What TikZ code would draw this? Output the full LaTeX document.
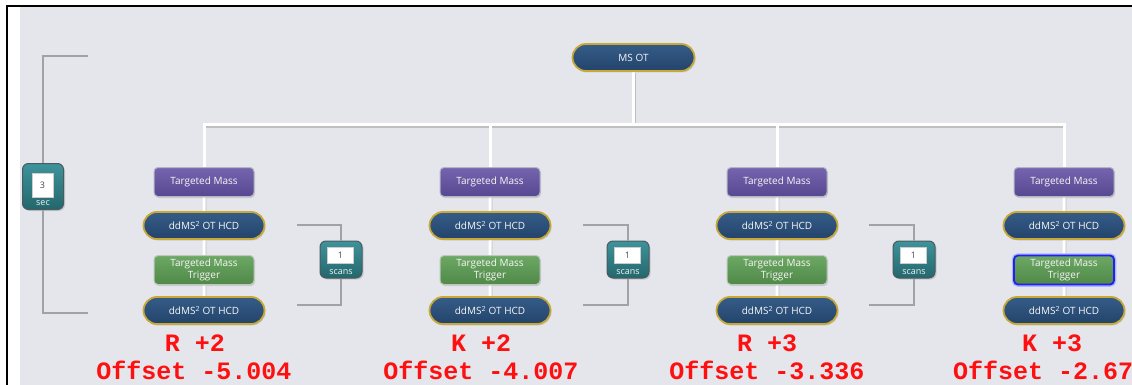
\documentclass[tikz,border=0pt]{standalone}
\usepackage{fontspec}
\setmainfont{Open Sans}
\newfontfamily\offsetfont{Liberation Mono}
\usetikzlibrary{positioning,shapes.misc,shadows,backgrounds}
\pgfdeclarelayer{paper}
\pgfsetlayers{paper,background,main}
\definecolor{paperbg}{HTML}{E4E6EC}
\definecolor{tmtop}{HTML}{7565AE}
\definecolor{tmbot}{HTML}{574790}
\definecolor{tmline}{HTML}{B4B4C4}
\definecolor{ddtop}{HTML}{355C88}
\definecolor{ddbot}{HTML}{23446B}
\definecolor{goldline}{HTML}{C8A836}
\definecolor{trtop}{HTML}{6CA864}
\definecolor{trbot}{HTML}{4F8848}
\definecolor{trline}{HTML}{BCC8BC}
\definecolor{cttop}{HTML}{3F939B}
\definecolor{ctbot}{HTML}{23676D}
\definecolor{ctline}{HTML}{4A5A5E}
\definecolor{hiblue}{HTML}{1E22F0}
\definecolor{brgray}{HTML}{A2A2A6}
\definecolor{massred}{HTML}{FF1010}

\begin{document}
\begin{tikzpicture}[x=1pt,y=-1pt,
  boxtext/.style={font=\fontsize{10}{12.5}\selectfont, text=white!94!gray, inner sep=0pt, align=center},
  tmass/.style={boxtext, rectangle, rounded corners=4pt, minimum width=100pt, minimum height=29pt,
    draw=tmline, line width=1pt, top color=tmtop, bottom color=tmbot,
    drop shadow={shadow xshift=1pt, shadow yshift=-1.5pt, opacity=0.25}},
  ddms/.style={boxtext, rounded rectangle, minimum width=121pt, minimum height=27pt,
    draw=goldline, line width=1.8pt, top color=ddtop, bottom color=ddbot,
    drop shadow={shadow xshift=1pt, shadow yshift=-1.5pt, opacity=0.25}},
  trigger/.style={boxtext, rectangle, rounded corners=4pt, minimum width=100pt, minimum height=29pt,
    draw=trline, line width=1pt, top color=trtop, bottom color=trbot,
    drop shadow={shadow xshift=1pt, shadow yshift=-1.5pt, opacity=0.25}},
  counter/.style={rectangle, rounded corners=6pt, draw=ctline, line width=1pt, top color=cttop, bottom color=ctbot,
    drop shadow={shadow xshift=1.5pt, shadow yshift=-1.5pt, opacity=0.3}},
  countnum/.style={rectangle, fill=white, draw=gray!40, inner sep=0pt, text=black!70, font=\fontsize{9}{9}\selectfont},
  countword/.style={inner sep=0pt, text=white!90!gray, font=\fontsize{9}{9}\selectfont},
  wire/.style={white, line width=3pt, preaction={draw=black!25, line width=3pt, transform canvas={xshift=0.8pt, yshift=-1.2pt}}},
  bracket/.style={draw=brgray, line width=2.5pt},
  masslab/.style={text=massred, inner sep=0pt, font=\offsetfont\bfseries\fontsize{25}{25}\selectfont}]
\useasboundingbox (0,0) rectangle (1132,385);
\clip (0,0) rectangle (1132,385);
\begin{pgfonlayer}{paper}
\fill[white] (0,0) rectangle (1132,385);
\fill[paperbg] (20,7) rectangle (1132,385);
\draw[black, line width=2pt] (7,385) -- (7,6.5) -- (1132,6.5);
\end{pgfonlayer}

% top of the tree
\node[ddms, minimum width=122pt] (ms) at (633.5,57.5) {MS OT};

% column 1
\node[tmass] (tm1) at (204,182) {Targeted Mass};
\node[ddms] (dd1a) at (204,225.5) {ddMS\textsuperscript{2} OT HCD};
\node[trigger] (tr1) at (204,270) {Targeted Mass\\Trigger};
\node[ddms] (dd1b) at (204,310.5) {ddMS\textsuperscript{2} OT HCD};
% column 2
\node[tmass] (tm2) at (490,182) {Targeted Mass};
\node[ddms] (dd2a) at (490,225.5) {ddMS\textsuperscript{2} OT HCD};
\node[trigger] (tr2) at (490,270) {Targeted Mass\\Trigger};
\node[ddms] (dd2b) at (490,310.5) {ddMS\textsuperscript{2} OT HCD};
% column 3
\node[tmass] (tm3) at (777,182) {Targeted Mass};
\node[ddms] (dd3a) at (777,225.5) {ddMS\textsuperscript{2} OT HCD};
\node[trigger] (tr3) at (777,270) {Targeted Mass\\Trigger};
\node[ddms] (dd3b) at (777,310.5) {ddMS\textsuperscript{2} OT HCD};
% column 4, trigger selected
\node[tmass] (tm4) at (1064,182) {Targeted Mass};
\node[ddms] (dd4a) at (1064,225.5) {ddMS\textsuperscript{2} OT HCD};
\node[trigger, draw=hiblue, line width=1.8pt, preaction={draw=hiblue!35, line width=4.5pt}] (tr4) at (1064,270) {Targeted Mass\\Trigger};
\node[ddms] (dd4b) at (1064,310.5) {ddMS\textsuperscript{2} OT HCD};

\begin{pgfonlayer}{background}
\coordinate (bus) at (633.5,125);
\draw[wire] (ms.south) -- (bus);
\draw[wire] (tm1.north) |- (bus) -| (tm4.north);
\draw[wire] (tm2.north) -- (tm2.north |- bus);
\draw[wire] (tm3.north) -- (tm3.north |- bus);
\draw[wire] (tm1) -- (dd1a) -- (tr1) -- (dd1b);
\draw[wire] (tm2) -- (dd2a) -- (tr2) -- (dd2b);
\draw[wire] (tm3) -- (dd3a) -- (tr3) -- (dd3b);
\draw[wire] (tm4) -- (dd4a) -- (tr4) -- (dd4b);
\end{pgfonlayer}

% cycle time
\node[counter, minimum width=41pt, minimum height=46pt] (secbox) at (43,186.5) {};
\node[countnum, minimum width=21pt, minimum height=24pt] (secnum) at (42.5,185) {3};
\node[countword] (secword) at (43,203) {sec};
\coordinate (sectop) at (88,56);
\coordinate (secbot) at (88,313);
\draw[bracket] (sectop) -| (secbox.north);
\draw[bracket] (secbox.south) |- (secbot);

% scan loops
\node[counter, minimum width=42pt, minimum height=37pt] (scan1) at (341,259.5) {};
\node[countnum, minimum width=26pt, minimum height=16pt] (num1) at (340.5,255) {1};
\node[countword] (word1) at (341,272) {scans};
\coordinate (lp1a) at (297,225);
\coordinate (lp1b) at (297,305);
\draw[bracket] (lp1a) -| (scan1.north);
\draw[bracket] (scan1.south) |- (lp1b);

\node[counter, minimum width=42pt, minimum height=37pt] (scan2) at (628,259.5) {};
\node[countnum, minimum width=26pt, minimum height=16pt] (num2) at (627.5,255) {1};
\node[countword] (word2) at (628,272) {scans};
\coordinate (lp2a) at (583,225);
\coordinate (lp2b) at (583,305);
\draw[bracket] (lp2a) -| (scan2.north);
\draw[bracket] (scan2.south) |- (lp2b);

\node[counter, minimum width=42pt, minimum height=37pt] (scan3) at (914,259.5) {};
\node[countnum, minimum width=26pt, minimum height=16pt] (num3) at (913.5,255) {1};
\node[countword] (word3) at (914,272) {scans};
\coordinate (lp3a) at (869,225);
\coordinate (lp3b) at (869,305);
\draw[bracket] (lp3a) -| (scan3.north);
\draw[bracket] (scan3.south) |- (lp3b);

% labels
\node[masslab] (res1) at (195,343) {R +2};
\node[masslab] (off1) at (194,370.5) {Offset -5.004};
\node[masslab] (res2) at (481,343) {K +2};
\node[masslab] (off2) at (481,370.5) {Offset -4.007};
\node[masslab] (res3) at (767,343) {R +3};
\node[masslab] (off3) at (767,370.5) {Offset -3.336};
\node[masslab] (res4) at (1052,343) {K +3};
\node[masslab, anchor=west] (off4) at (953,370.5) {Offset -2.67};
\end{tikzpicture}
\end{document}
